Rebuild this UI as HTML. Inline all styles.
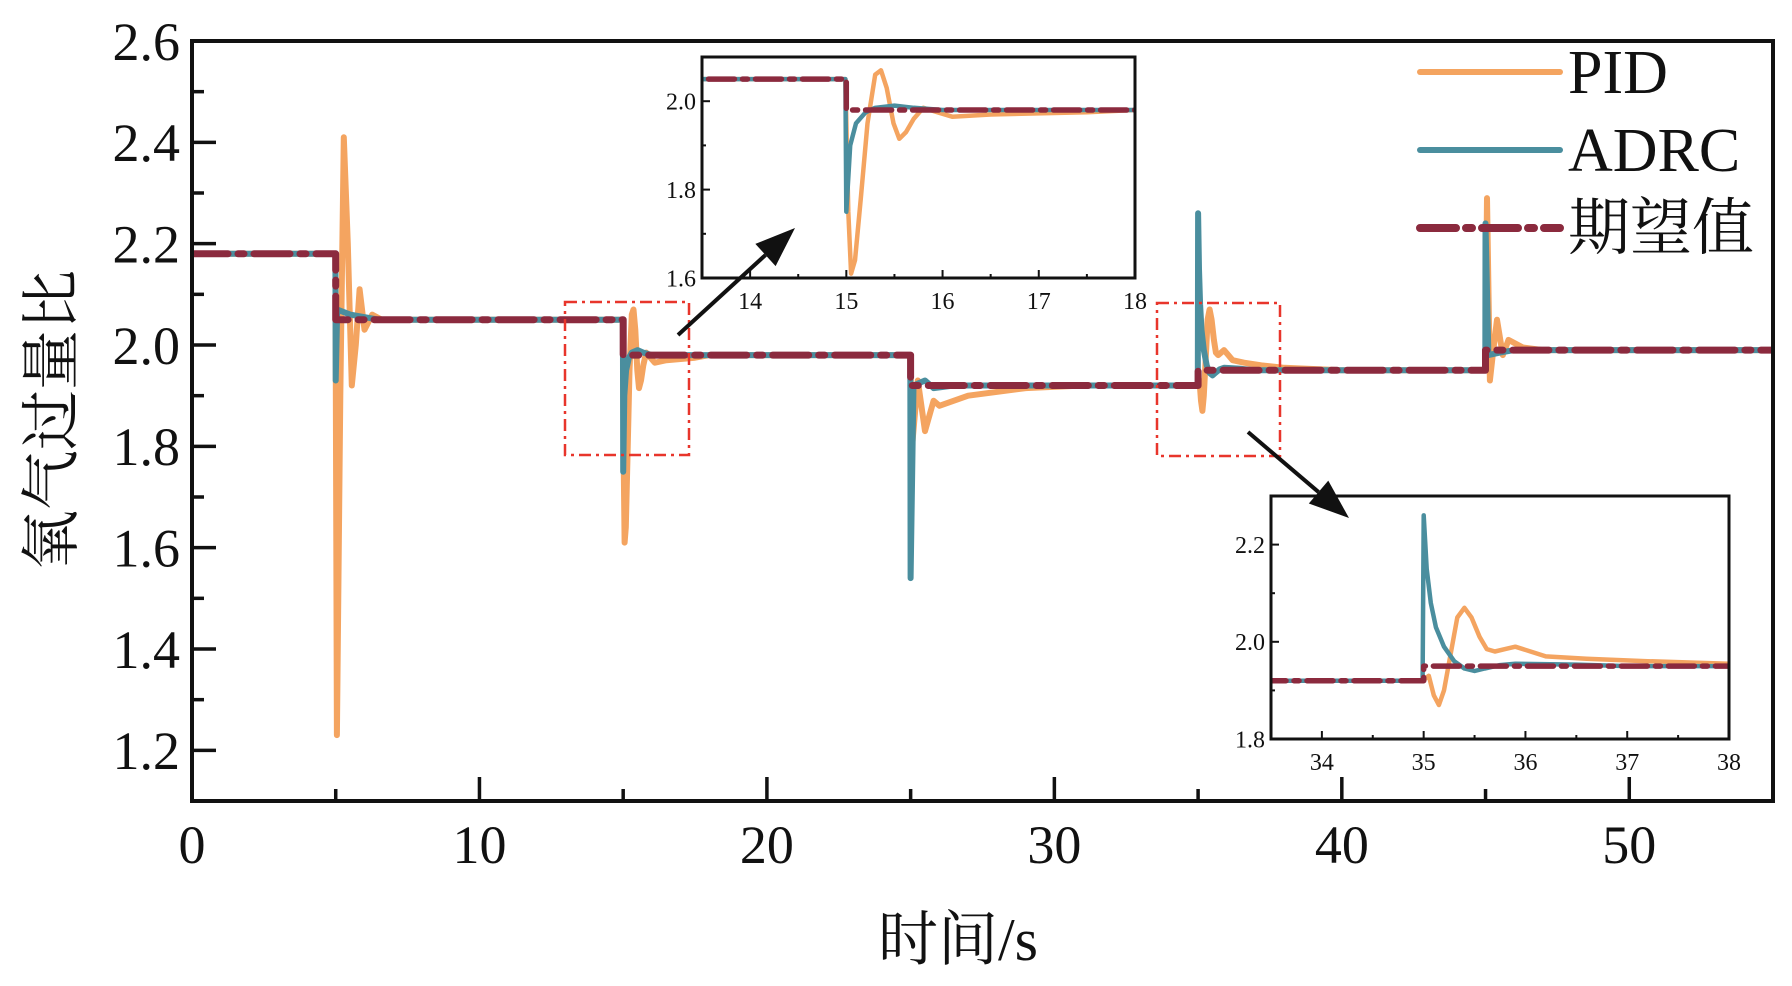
<!DOCTYPE html>
<html><head><meta charset="utf-8"><style>
html,body{margin:0;padding:0;background:#fff}
svg{display:block}
text{font-family:"Liberation Serif","Noto Serif CJK SC",serif;fill:#111}
</style></head><body>
<svg id="chart" width="1792" height="986" viewBox="0 0 1792 986"></svg>
<script>
const setT=[0,5,5,15,15,25,25,35,35,45,45,55];
const setV=[2.18,2.18,2.05,2.05,1.98,1.98,1.92,1.92,1.95,1.95,1.99,1.99];
const pidT=[0,4.99,5.04,5.16,5.28,5.42,5.56,5.7,5.83,6.0,6.27,6.6,7,14.99,15.02,15.05,15.09,15.15,15.22,15.3,15.36,15.42,15.49,15.55,15.62,15.7,15.8,15.95,16.1,16.5,17.5,18,24.99,25.05,25.25,25.5,25.8,26,27,29,31,34.99,35.05,35.1,35.15,35.2,35.27,35.33,35.4,35.47,35.55,35.62,35.7,35.8,35.9,36.05,36.2,36.6,37.2,38,40,44.99,45.05,45.15,45.27,45.4,45.6,45.8,46.3,47,55];
const pidV=[2.18,2.18,1.23,1.9,2.41,2.2,1.92,2.0,2.11,2.03,2.06,2.05,2.05,2.05,1.75,1.61,1.64,1.78,1.95,2.06,2.07,2.03,1.95,1.915,1.93,1.96,1.985,1.975,1.965,1.97,1.975,1.98,1.98,1.80,1.93,1.83,1.89,1.88,1.90,1.915,1.92,1.92,1.93,1.89,1.87,1.9,1.98,2.05,2.07,2.05,2.01,1.985,1.98,1.985,1.99,1.98,1.97,1.965,1.96,1.955,1.95,1.95,2.29,1.93,1.99,2.05,1.98,2.01,1.995,1.99,1.99];
const adrcT=[0,4.99,5.0,5.05,5.5,6.5,14.99,15.0,15.04,15.1,15.2,15.3,15.5,15.7,16,17,24.99,25.0,25.1,25.5,25.8,26.5,34.99,35.0,35.03,35.07,35.12,35.2,35.3,35.4,35.5,35.6,35.75,35.9,36.5,37,44.99,45.0,45.1,45.5,46,55];
const adrcV=[2.18,2.18,1.93,2.07,2.06,2.05,2.05,1.75,1.9,1.95,1.975,1.985,1.99,1.985,1.98,1.98,1.98,1.54,1.92,1.93,1.915,1.92,1.92,2.26,2.15,2.08,2.03,1.99,1.96,1.945,1.94,1.945,1.952,1.955,1.953,1.95,1.95,2.24,1.98,1.985,1.99,1.99];
const xTicks=[0,10,20,30,40,50];
const yTicks=[1.2,1.4,1.6,1.8,2.0,2.2,2.4,2.6];
const in1X=[14,15,16,17,18], in1Y=[1.6,1.8,2.0];
const in2X=[34,35,36,37,38], in2Y=[1.8,2.0,2.2];

const NS="http://www.w3.org/2000/svg";
const svg=document.getElementById('chart');
function mk(tag,attrs,parent){const e=document.createElementNS(NS,tag);for(const k in attrs)e.setAttribute(k,attrs[k]);(parent||svg).appendChild(e);return e;}
const C={pid:"#F4A460",adrc:"#4A8E9E",set:"#8B2A3E"};

function panel(name,L,T,R,B,x0,x1,y0,y1,xt,yt,opt){
  const sx=v=>L+(v-x0)/(x1-x0)*(R-L), sy=v=>B-(v-y0)/(y1-y0)*(B-T);
  const g=mk('g',{});
  
  
  mk('rect',{x:L,y:T,width:R-L,height:B-T,fill:'#fff'},g);
  const cid=name+'-clip';
  const cp=mk('clipPath',{id:cid},g);mk('rect',{x:L,y:T,width:R-L,height:B-T},cp);
  const lg=mk('g',{'clip-path':`url(#${cid})`},g);
  function line(ts,vs,color,w,dash,nm){
    let d='';ts.forEach((t,i)=>{d+=(i?'L':'M')+sx(t).toFixed(1)+','+sy(vs[i]).toFixed(1);});
    const p=mk('path',{d:d,fill:'none',stroke:color,'stroke-width':w,'stroke-linejoin':'round','stroke-linecap':'round'},lg);
    if(dash)p.setAttribute('stroke-dasharray',dash);
    
    
  }
  line(pidT,pidV,C.pid,opt.w,null,'pid-line');
  line(adrcT,adrcV,C.adrc,opt.w,null,'adrc-line');
  line(setT,setV,C.set,opt.w+1,opt.dash,'setpoint-line');
  xt.forEach(v=>{mk('line',{x1:sx(v),x2:sx(v),y1:B,y2:B-opt.tl,stroke:'#111','stroke-width':opt.tw},g);
    const t=mk('text',{x:sx(v),y:B+opt.xlo,'font-size':opt.fs,'text-anchor':'middle'},g);t.textContent=v;
    });
  for(let k=0;k<xt.length;k++){const m=xt[k]+(xt[1]-xt[0])/2;if(m<x1)mk('line',{x1:sx(m),x2:sx(m),y1:B,y2:B-opt.tl/2,stroke:'#111','stroke-width':opt.tw},g);}
  yt.forEach(v=>{mk('line',{x1:L,x2:L+opt.tl,y1:sy(v),y2:sy(v),stroke:'#111','stroke-width':opt.tw},g);
    const t=mk('text',{x:L-opt.ylo,y:sy(v)+opt.fs*0.35,'font-size':opt.fs,'text-anchor':'end'},g);t.textContent=v.toFixed(1);
    });
  for(let k=0;k<yt.length;k++){const m=yt[k]-(yt[1]-yt[0])/2;if(m>y0)mk('line',{x1:L,x2:L+opt.tl/2,y1:sy(m),y2:sy(m),stroke:'#111','stroke-width':opt.tw},g);}
  mk('rect',{x:L,y:T,width:R-L,height:B-T,fill:'none',stroke:'#111','stroke-width':opt.fw},g);
}
panel('main-plot',192,41,1773,801,0,55,1.1,2.6,xTicks,yTicks,{w:6,dash:'36 10 6 10',tl:24,tw:3.5,fw:4,fs:54,xlo:62,ylo:12});

[[565,302,689,455],[1157,303,1280,456]].forEach((r,i)=>{const e=mk('rect',{x:r[0],y:r[1],width:r[2]-r[0],height:r[3]-r[1],fill:'none',stroke:'#E8352B','stroke-width':2.5,'stroke-dasharray':'12 5 3 5'});
  });

panel('inset-15s',702,57,1135,278,13.5,18,1.6,2.1,in1X,in1Y,{w:4.5,dash:'26 8 5 8',tl:8,tw:2,fw:3,fs:24,xlo:31,ylo:6});
panel('inset-35s',1271,496,1729,739,33.5,38,1.8,2.3,in2X,in2Y,{w:4.5,dash:'26 8 5 8',tl:8,tw:2,fw:3,fs:24,xlo:31,ylo:6});

function arrow(x1,y1,x2,y2,nm){const g=mk('g',{});
  const a=Math.atan2(y2-y1,x2-x1),L=40,W=15;const bx=x2-L*Math.cos(a),by=y2-L*Math.sin(a);
  mk('line',{x1:x1,y1:y1,x2:bx,y2:by,stroke:'#111','stroke-width':4},g);
  mk('polygon',{points:`${x2},${y2} ${bx+W*Math.sin(a)},${by-W*Math.cos(a)} ${bx-W*Math.sin(a)},${by+W*Math.cos(a)}`,fill:'#111'},g);}
arrow(678,335,795,228,'arrow-1');
arrow(1248,432,1349,518,'arrow-2');

const leg=[['PID',C.pid,null],['ADRC',C.adrc,null],['期望值',C.set,'36 10 6 10']];
leg.forEach((l,i)=>{const y=72+i*78;const g=mk('g',{});
  const ln=mk('line',{x1:1420,x2:1560,y1:y,y2:y,stroke:l[1],'stroke-width':l[2]?8:6,'stroke-linecap':'round'},g);if(l[2])ln.setAttribute('stroke-dasharray',l[2]);
  const t=mk('text',{x:1568,y:y+21,'font-size':62},g);t.textContent=l[0];});

let t=mk('text',{x:958,y:960,'font-size':60,'text-anchor':'middle'});t.textContent='时间/s';

t=mk('text',{x:0,y:0,'font-size':60,'text-anchor':'middle',transform:'translate(72,420) rotate(-90)'});t.textContent='氧气过量比';

</script>
</body></html>
